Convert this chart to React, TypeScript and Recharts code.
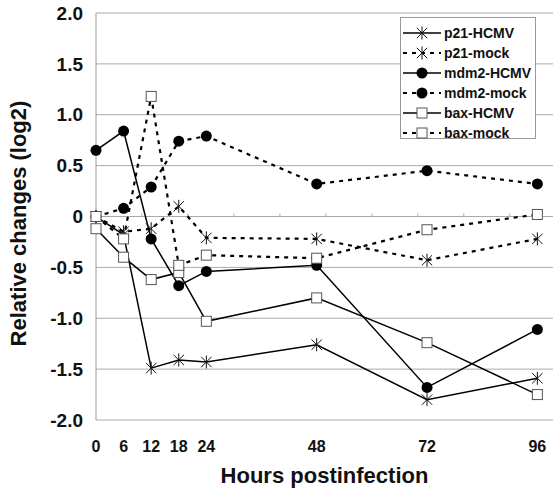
import { LineChart, Line, XAxis, YAxis, CartesianGrid, ReferenceLine, Label } from "recharts";

const hours = [0, 6, 12, 18, 24, 48, 72, 96];
const p21Hcmv = [0, -0.18, -1.49, -1.41, -1.43, -1.26, -1.8, -1.59];
const p21Mock = [0, -0.15, -0.12, 0.1, -0.21, -0.22, -0.43, -0.22];
const mdm2Hcmv = [0.65, 0.84, -0.22, -0.68, -0.54, -0.48, -1.68, -1.11];
const mdm2Mock = [0, 0.08, 0.29, 0.74, 0.79, 0.32, 0.45, 0.32];
const baxHcmv = [-0.12, -0.4, -0.62, -0.55, -1.03, -0.8, -1.24, -1.75];
const baxMock = [0, -0.22, 1.18, -0.48, -0.38, -0.41, -0.13, 0.02];

const yTicks = [-2, -1.5, -1, -0.5, 0, 0.5, 1, 1.5, 2];
const minorTicks = [10, 20, 30, 40, 50, 60, 70, 80, 90];

const data = hours.map((h, i) => ({
  h,
  p21Hcmv: p21Hcmv[i],
  p21Mock: p21Mock[i],
  mdm2Hcmv: mdm2Hcmv[i],
  mdm2Mock: mdm2Mock[i],
  baxHcmv: baxHcmv[i],
  baxMock: baxMock[i],
}));

const Star = ({ cx, cy }: any) => {
  if (cx == null || cy == null) return null;
  const r = 6.5;
  const d = r * 0.8;
  return (
    <g stroke="#111" strokeWidth={1}>
      <line x1={cx - d} y1={cy - d} x2={cx + d} y2={cy + d} />
      <line x1={cx - d} y1={cy + d} x2={cx + d} y2={cy - d} />
      <line x1={cx} y1={cy - r} x2={cx} y2={cy + r} />
    </g>
  );
};

const Dot = ({ cx, cy }: any) => {
  if (cx == null || cy == null) return null;
  return <circle cx={cx} cy={cy} r={5.5} fill="#000" />;
};

const Square = ({ cx, cy }: any) => {
  if (cx == null || cy == null) return null;
  return <rect x={cx - 5} y={cy - 5} width={10} height={10} fill="#fff" stroke="#555" strokeWidth={1} />;
};

const series = [
  { key: "p21Hcmv", name: "p21-HCMV", dashed: false, Mark: Star },
  { key: "p21Mock", name: "p21-mock", dashed: true, Mark: Star },
  { key: "mdm2Hcmv", name: "mdm2-HCMV", dashed: false, Mark: Dot },
  { key: "mdm2Mock", name: "mdm2-mock", dashed: true, Mark: Dot },
  { key: "baxHcmv", name: "bax-HCMV", dashed: false, Mark: Square },
  { key: "baxMock", name: "bax-mock", dashed: true, Mark: Square },
];

const font = "Liberation Sans, Arial, sans-serif";

function LegendBox() {
  return (
    <div
      style={{
        position: "absolute",
        left: 400,
        top: 17,
        border: "1px solid #999",
        background: "#fff",
        width: 136,
        height: 122,
        boxSizing: "border-box",
        padding: "5px 0 0 0",
        fontFamily: font,
        fontWeight: 700,
        fontSize: 14,
        color: "#111",
        whiteSpace: "nowrap",
      }}
    >
      {series.map((s) => (
        <div key={s.key} style={{ display: "flex", alignItems: "center", height: 20 }}>
          <svg width={42} height={20} style={{ flex: "none" }}>
            <line
              x1={2}
              y1={10}
              x2={40}
              y2={10}
              stroke="#000"
              strokeWidth={s.dashed ? 2.2 : 1.5}
              strokeDasharray={s.dashed ? "4 5" : undefined}
            />
            <s.Mark cx={21} cy={10} />
          </svg>
          <span style={{ marginLeft: 1 }}>{s.name}</span>
        </div>
      ))}
    </div>
  );
}

const YTitle = ({ viewBox }: any) => {
  const x = 18;
  const y = viewBox.y + viewBox.height / 2 + 7;
  return (
    <text
      x={x}
      y={y}
      transform={`rotate(-90, ${x}, ${y})`}
      textAnchor="middle"
      dominantBaseline="central"
      style={{ fontFamily: font, fontWeight: 700, fontSize: 22, fill: "#111" }}
    >
      Relative changes (log2)
    </text>
  );
};

export default function App() {
  return (
    <div style={{ position: "absolute", left: 0, top: 0, width: 553, height: 488 }}>
      <LineChart
        width={553}
        height={488}
        data={data}
        margin={{ top: 13, right: 0, bottom: 38, left: 0 }}
      >
        <CartesianGrid vertical={false} stroke="#aaa" />
        <XAxis
          dataKey="h"
          type="number"
          domain={[0, 99.4]}
          ticks={hours}
          interval={0}
          axisLine={false}
          tickLine={false}
          tickSize={0}
          tickMargin={21}
          height={30}
          tick={{ fontFamily: font, fontWeight: 700, fontSize: 16, fill: "#111" }}
        >
          <Label
            value="Hours postinfection"
            position="bottom"
            offset={17}
            style={{ fontFamily: font, fontWeight: 700, fontSize: 22, fill: "#111" }}
          />
        </XAxis>
        <YAxis
          width={96}
          domain={[-2, 2]}
          ticks={yTicks}
          interval={0}
          axisLine={{ stroke: "#999" }}
          tickLine={false}
          tickSize={0}
          tickMargin={13}
          tickFormatter={(v: number) => (v === 0 ? "0" : v.toFixed(1))}
          tick={{ fontFamily: font, fontWeight: 700, fontSize: 19, fill: "#111" }}
        >
          <Label content={YTitle} />
        </YAxis>
        {minorTicks.map((t) => (
          <ReferenceLine
            key={t}
            segment={[{ x: t, y: 0 }, { x: t, y: 0.03 }]}
            stroke="#aaa"
          />
        ))}
        {series.map((s) => (
          <Line
            key={s.key}
            dataKey={s.key}
            name={s.name}
            type="linear"
            stroke="#000"
            strokeWidth={s.dashed ? 2.2 : 1.5}
            strokeDasharray={s.dashed ? "4 5" : undefined}
            dot={(p: any) => <s.Mark key={`${s.key}-${p.index}`} cx={p.cx} cy={p.cy} />}
            activeDot={false}
            isAnimationActive={false}
          />
        ))}
      </LineChart>
      <LegendBox />
    </div>
  );
}
